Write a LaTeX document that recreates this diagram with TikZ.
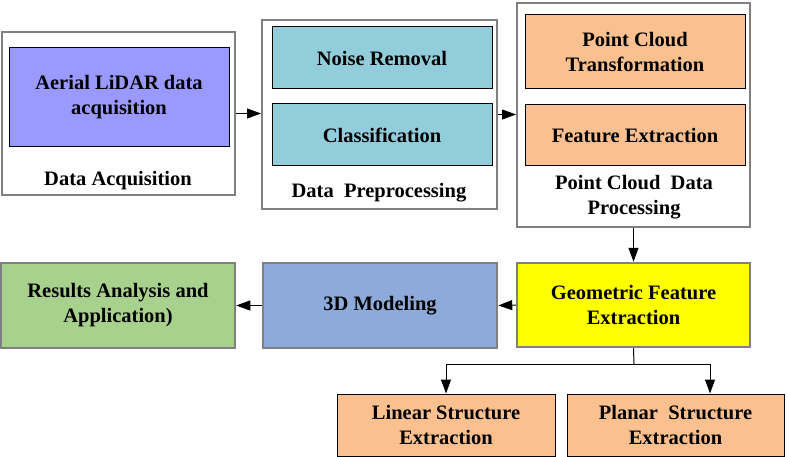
\documentclass[tikz,border=0pt]{standalone}
\usepackage{fontspec}
\setmainfont{Liberation Serif}[BoldFont={Liberation Serif Bold}]
\usepackage{xcolor}
\usepackage{tikz}
\usetikzlibrary{arrows.meta, positioning}

\definecolor{lidarblue}{HTML}{9999FF}
\definecolor{prepcyan}{HTML}{92CDDC}
\definecolor{procpeach}{HTML}{FAC090}
\definecolor{modelblue}{HTML}{8EAADB}
\definecolor{resgreen}{HTML}{A9D18E}
\definecolor{geomyellow}{HTML}{FFFF00}
\definecolor{framegray}{HTML}{808080}

\tikzset{
  groupbox/.style={draw=framegray, line width=2pt, fill=white, inner sep=0pt},
  stagebox/.style={draw=black, line width=1pt, inner sep=0pt, align=center,
    font=\fontsize{20.5}{25}\selectfont\bfseries},
  mainbox/.style={draw=framegray, line width=2.5pt, inner sep=0pt, align=center,
    font=\fontsize{20.5}{25}\selectfont\bfseries},
  grouplabel/.style={inner sep=0pt, align=center,
    font=\fontsize{20.5}{25}\selectfont\bfseries},
  flow/.style={-{Triangle[length=14pt,width=10pt]}, line width=1pt}
}

\begin{document}
\begin{tikzpicture}[x=1pt, y=-1pt]
  \useasboundingbox (0,0) rectangle (787,457);

  % upper row: grouped stages
  \node[groupbox, minimum width=233pt, minimum height=163pt] (acq) at (118.5,113.5) {};
  \node[groupbox, minimum width=235pt, minimum height=189pt] (prep) at (379.5,114.5) {};
  \node[groupbox, minimum width=233pt, minimum height=224pt] (proc) at (633.5,115) {};

  \node[stagebox, fill=lidarblue, minimum width=220pt, minimum height=99pt] (lidar) at (119,97)
    {Aerial LiDAR data\\acquisition};
  \node[grouplabel] (acqlabel) at (118,181) {Data Acquisition};

  \node[stagebox, fill=prepcyan, minimum width=220pt, minimum height=62pt] (noise) at (382,58) {Noise Removal};
  \node[stagebox, fill=prepcyan, minimum width=220pt, minimum height=62pt] (classif) at (382,135) {Classification};
  \node[grouplabel] (preplabel) at (379,193) {Data~~Preprocessing};

  \node[stagebox, fill=procpeach, minimum width=220pt, minimum height=74pt] (transf) at (635,52)
    {Point Cloud\\Transformation};
  \node[stagebox, fill=procpeach, minimum width=220pt, minimum height=61pt] (featex) at (635,135.5) {Feature Extraction};
  \node[grouplabel] (proclabel) at (634,197.5) {Point Cloud~~Data\\Processing};

  % lower row
  \node[mainbox, fill=geomyellow, minimum width=233pt, minimum height=84pt] (geom) at (633.5,305)
    {Geometric Feature\\Extraction};
  \node[mainbox, fill=modelblue, minimum width=234pt, minimum height=85pt] (model) at (380,305.5) {3D Modeling};
  \node[mainbox, fill=resgreen, minimum width=234pt, minimum height=85pt] (results) at (118,305.5)
    {Results Analysis and\\Application)};

  \node[stagebox, fill=procpeach, minimum width=218pt, minimum height=62pt] (linear) at (446,425)
    {Linear Structure\\Extraction};
  \node[stagebox, fill=procpeach, minimum width=217pt, minimum height=62pt] (planar) at (675.5,425)
    {Planar~~Structure\\Extraction};

  \coordinate (split) at (634,364);

  % connectors
  \draw[flow] (acq.east) -- (acq.east -| prep.west);
  \draw[flow] (prep.east) -- (prep.east -| proc.west);
  \draw[flow] (proc.south) -- (geom.north);
  \draw[flow] (geom.west) -- (model.east);
  \draw[flow] (model.west) -- (results.east);
  \draw[line width=1pt] (geom.south) -- (split);
  \draw[flow] (split) -| (linear.north);
  \draw[flow] (split) -| ([xshift=34.5pt]planar.north);
\end{tikzpicture}
\end{document}
